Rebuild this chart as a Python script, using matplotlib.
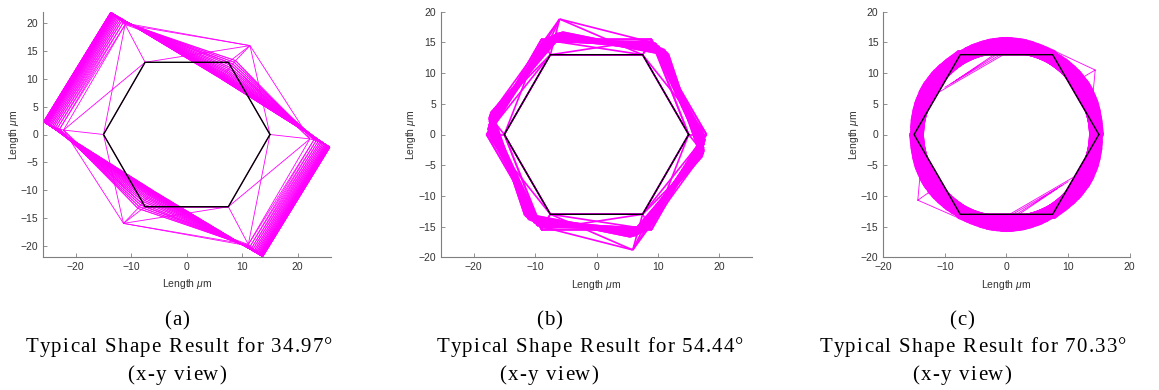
import numpy as np
import matplotlib
matplotlib.use('Agg')
import matplotlib.pyplot as plt
from matplotlib.collections import LineCollection
from matplotlib import font_manager
from matplotlib.ft2font import FT2Font

plt.rcParams['font.family'] = ['Liberation Sans', 'DejaVu Sans']
plt.rcParams['mathtext.fontset'] = 'custom'
plt.rcParams['mathtext.it'] = 'Liberation Sans:italic'
plt.rcParams['mathtext.rm'] = 'Liberation Sans'

W, H = 1159, 390
MAG = '#ff00ff'
nan = np.nan

# reference (black) hexagon, same in all three views
hex_x = [15.0, 7.5, -7.5, -15.0, -7.5, 7.5]
hex_y = [0.0, 13.0, 13.0, 0.0, -13.0, -13.0]

# (a) 34.97 deg: vertices P0, P1, P2 of every layer (P3..P5 mirror through the centre)
a_p0x = [15.0, 22.2, 22.9, 23.3, 23.65, 23.95, 24.2, 24.45, 24.65, 24.85, 25.0, 25.12, 25.24, 25.34, 25.43, 25.5,
         25.56, 25.62, 25.67, 25.71, 25.74, 25.77, 25.79, 25.8]
a_p0y = [0.0, -0.8, -1.0, -1.15, -1.28, -1.4, -1.5, -1.6, -1.69, -1.78, -1.85, -1.92, -1.98, -2.03, -2.08, -2.12,
         -2.16, -2.19, -2.22, -2.24, -2.26, -2.28, -2.29, -2.3]
a_p1x = [7.5, 11.4, 8.8, 8.55, 8.3, 8.05, 7.8, 7.6, 7.4, 7.2, 7.05, 6.9, 6.8, 6.7, 6.6, 6.52,
         6.46, 6.4, 6.36, 6.32, 6.28, 6.25, 6.22, 6.2]
a_p1y = [13.0, 16.0, 13.3, 13.0, 12.7, 12.4, 12.1, 11.85, 11.6, 11.4, 11.2, 11.0, 10.85, 10.7, 10.58, 10.47,
         10.38, 10.3, 10.23, 10.17, 10.12, 10.08, 10.04, 10.0]
a_p2x = [-7.5, -11.1, -11.45, -11.75, -12.0, -12.25, -12.45, -12.65, -12.8, -12.95, -13.07, -13.18, -13.28, -13.36,
         -13.43, -13.5, -13.55, -13.59, -13.62, -13.65, -13.67, -13.68, -13.69, -13.7]
a_p2y = [13.0, 19.8, 20.1, 20.35, 20.55, 20.72, 20.88, 21.02, 21.15, 21.27, 21.38, 21.48, 21.57, 21.65,
         21.72, 21.78, 21.83, 21.87, 21.9, 21.93, 21.95, 21.97, 21.99, 22.0]

# (b) 54.44 deg: layer radius and twist (deg)
b_rad = [15.0, 17.9, 17.6, 17.2, 17.4, 17.7, 17.1, 17.3, 17.6, 17.2, 17.5, 17.0, 17.3, 17.6, 17.2, 17.4,
         17.7, 17.1, 17.3, 17.6, 17.2, 17.4, 17.6, 17.1, 17.4, 17.5, 17.6]
b_rot = [0.0, 0.0, -0.8, -1.5, -2.2, -3.0, -3.6, -4.3, -4.9, -5.4, -6.0, -6.5, -7.0, -7.4, -7.8, -8.2,
         -8.6, -8.9, -9.2, -9.5, -9.8, -10.0, -10.3, -10.5, -10.8, -11.0, -11.5]
# (b) outlying layer
b_out_x = [17.4, 9.0, -6.0, -17.4, -9.0, 5.9]
b_out_y = [-3.0, 15.0, 18.8, 3.0, -15.0, -18.8]

# (c) 70.33 deg: layer radius and twist (deg)
c_rad = [15.0, 15.7, 15.6, 15.6, 15.6, 15.6, 15.6, 15.6, 15.65, 15.65, 15.65, 15.7, 15.7, 15.7, 15.7, 15.7,
         15.7, 15.75, 15.75, 15.75, 15.75, 15.75, 15.7, 15.7, 15.7, 15.7, 15.7, 15.65, 15.65, 15.65, 15.6, 15.6,
         15.6, 15.6, 15.55, 15.55, 15.55, 15.5, 15.5, 15.5]
c_rot = [0.0, 0.0, 4.0, 6.0, 8.0, 9.5, 11.0, 12.5, 14.0, 15.5, 17.0, 18.5, 20.0, 21.5, 23.0, 24.5,
         26.0, 27.5, 29.0, 30.5, 32.0, 33.5, 35.0, 36.5, 38.0, 39.5, 41.0, 42.5, 44.0, 45.5, 47.0, 48.5,
         50.0, 51.5, 53.0, 54.5, 55.5, 56.5, 57.5, 59.0]
# (c) stray segments (NaN breaks the polyline)
c_str_x = [8.0, 14.4, 13.8, nan, 8.3, 12.2, 13.5, nan, 14.4, 12.2, nan,
           -8.0, -14.4, -13.8, nan, -8.3, -12.7, -13.5, nan, -14.4, -12.7, nan,
           -2.1, -8.1, nan, -1.6, -9.0, nan, -1.0, -10.0, nan, -0.5, -10.8, nan,
           2.1, 8.1, nan, 1.6, 9.0, nan, 1.0, 10.0, nan, 0.5, 10.8]
c_str_y = [13.5, 10.5, 4.0, nan, 12.6, 9.2, 5.0, nan, 10.5, 9.2, nan,
           -13.5, -10.7, -4.0, nan, -12.6, -9.5, -5.0, nan, -10.7, -9.5, nan,
           12.95, 8.9, nan, 13.0, 8.3, nan, 13.0, 7.7, nan, 13.0, 7.0, nan,
           -12.95, -8.9, nan, -13.0, -8.3, nan, -13.0, -7.7, nan, -13.0, -7.0]

panels = ['a', 'b', 'c']
captions = ['Typical Shape Result for 34.97\u00b0',
            'Typical Shape Result for 54.44\u00b0',
            'Typical Shape Result for 70.33\u00b0']
xlims = [(-25.9, 26.0), (-25.35, 25.35), (-20, 20)]
ylims = [(-22.05, 22.05), (-20, 20), (-20, 20)]
xticks = [[-20, -10, 0, 10, 20]] * 3
yticks = [[-20, -15, -10, -5, 0, 5, 10, 15, 20]] * 3
# axes boxes in pixels: left, right, top, bottom
boxes = [(43, 331, 12, 257), (440.7, 752.3, 11.7, 257.3), (883.3, 1129.7, 11.7, 257.3)]
label_x = [177, 549, 962]
cap_x = [179, 590, 973]


def mirror_layers(p0x, p0y, p1x, p1y, p2x, p2y):
    L = []
    for k in range(len(p0x)):
        pts = [(p0x[k], p0y[k]), (p1x[k], p1y[k]), (p2x[k], p2y[k])]
        pts = pts + [(-x, -y) for x, y in pts]
        L.append(pts)
    return np.array(L)


def twisted_layers(rad, rot):
    L = []
    for r, t in zip(rad, rot):
        ang = np.deg2rad(np.arange(6) * 60.0 + t)
        L.append(np.column_stack([r * np.cos(ang), r * np.sin(ang)]))
    return np.array(L)


def mesh_segments(layers, both_diag_first=True):
    segs = []
    for k in range(len(layers)):
        for i in range(6):
            segs.append([layers[k][i], layers[k][(i + 1) % 6]])
        if k > 0:
            for i in range(6):
                segs.append([layers[k - 1][i], layers[k][i]])
                segs.append([layers[k - 1][i], layers[k][(i + 1) % 6]])
                if k == 1 and both_diag_first:
                    segs.append([layers[k][i], layers[k - 1][(i + 1) % 6]])
    return segs


def spaced_text(fig, xc, ybase, s, size, gap):
    prop = font_manager.FontProperties(family='Liberation Serif', size=size)
    font = FT2Font(font_manager.findfont(prop))
    font.set_size(size, 72)
    adv = [font.load_char(ord(ch)).linearHoriAdvance / 65536 * fig.dpi / 72 for ch in s]
    total = sum(adv) + gap * (len(s) - 1)
    x = xc - total / 2
    for ch, a in zip(s, adv):
        fig.text(x / W, 1 - ybase / H, ch, fontproperties=prop, ha='left', va='baseline')
        x += a + gap


layers_a = mirror_layers(a_p0x, a_p0y, a_p1x, a_p1y, a_p2x, a_p2y)
layers_b = twisted_layers(b_rad, b_rot)
layers_c = twisted_layers(c_rad, c_rot)

segs_a = mesh_segments(layers_a)
segs_b = mesh_segments(layers_b) + mesh_segments(
    np.array([layers_b[0], np.column_stack([b_out_x, b_out_y]), layers_b[6]]), False)
segs_c = mesh_segments(layers_c)
all_segs = [segs_a, segs_b, segs_c]
lws = [0.6, 1.2, 1.2]

fig = plt.figure(figsize=(W / 100, H / 100), dpi=100)
for j in range(3):
    l, r, t, b = boxes[j]
    ax = fig.add_axes([l / W, 1 - b / H, (r - l) / W, (b - t) / H])
    ax.add_collection(LineCollection(all_segs[j], colors=MAG, linewidths=lws[j]))
    if j == 2:
        ax.plot(c_str_x, c_str_y, color=MAG, lw=0.6)
    ax.plot(hex_x + hex_x[:1], hex_y + hex_y[:1], color='black', lw=1.0)
    ax.set_xlim(*xlims[j])
    ax.set_ylim(*ylims[j])
    ax.set_xticks(xticks[j])
    ax.set_yticks(yticks[j])
    for sp in ['top', 'right']:
        ax.spines[sp].set_visible(False)
    for sp in ['left', 'bottom']:
        ax.spines[sp].set_color('#7f7f7f')
        ax.spines[sp].set_linewidth(0.8)
    ax.tick_params(direction='in', length=3, width=0.6, color='#7f7f7f', labelsize=7.5,
                   labelcolor='#333333', pad=3.5)
    ax.set_xlabel('Length $\\mu$m', fontsize=7.5, color='#333333', labelpad=4)
    ax.set_ylabel('Length $\\mu$m', fontsize=7.5, color='#333333', labelpad=0)

    spaced_text(fig, label_x[j], 325, '(' + panels[j] + ')', 15, 1.0)
    spaced_text(fig, cap_x[j], 352, captions[j], 15, 1.3)
    spaced_text(fig, label_x[j], 380, '(x-y view)', 15, 1.3)

fig.savefig('out.png', dpi=100)
